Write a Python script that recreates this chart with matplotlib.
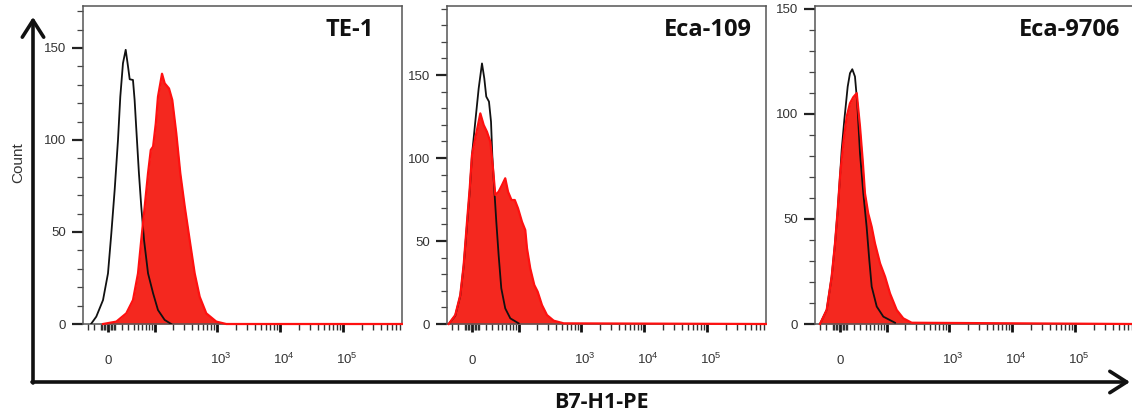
import numpy as np
import matplotlib
matplotlib.use("Agg")
import matplotlib.pyplot as plt
from matplotlib.ticker import FixedLocator, MultipleLocator
from matplotlib.transforms import ScaledTranslation

plt.rcParams['font.family'] = ['Liberation Sans', 'DejaVu Sans']
plt.rcParams['mathtext.fontset'] = 'custom'
plt.rcParams['mathtext.rm'] = 'Liberation Sans'
plt.rcParams['mathtext.it'] = 'Liberation Sans'

# ---------------- data (fluorescence intensity vs. cell count) ----------------
panel_titles = ["TE-1", "Eca-109", "Eca-9706"]
y_limits = [172.8, 191.6, 151.4]

# TE-1
te1_ctrl_x = [-24.6, -16.4, -6.8, 0, 4.5, 9.2, 13.9, 17.3, 21.4, 25.8, 29.7, 32.7, 38.9,
              42.2, 45.5, 51.6, 57.2, 64.5, 76.1, 93.1, 112.6, 145.4, 186]
te1_ctrl_count = [0, 4, 13, 27.5, 49, 73, 100, 123.5, 141.7, 149, 140, 133, 132.6,
                  121.7, 107, 82, 64, 45.6, 27.5, 16.7, 7.6, 2.2, 0]
te1_b7_x = [-6.8, 11.5, 26.8, 38.9, 49.5, 57.2, 66.4, 76.1, 85.0, 93.1, 103.5, 112.6, 131.4,
            145.4, 170.9, 193.3, 224.3, 260, 305.9, 367.6, 441.6, 530.5, 675.2, 973.5, 1403, 860000]
te1_b7_count = [0, 1.3, 5.8, 13, 27.5, 45.6, 64, 82, 94.6, 96.4, 109, 123.5, 136,
                130.8, 128, 121.7, 103.6, 82, 64, 45.6, 27.5, 14.8, 5.8, 1.3, 0, 0]

# Eca-109
eca109_ctrl_x = [-35.7, -24.2, -16.4, -11.5, -6.8, -3.1, 0, 4.5, 9.2, 13.9, 17.3, 20.3, 24.6,
                 28.0, 30.2, 33.7, 37.6, 42.2, 47.9, 57.2, 70.9, 98.9]
eca109_ctrl_count = [0, 5, 17, 35, 60, 80, 101.8, 121.9, 142, 157, 148, 137, 134,
                     121.9, 101.8, 81.7, 61.6, 41.6, 21.5, 9.4, 3.4, 0.4]
eca109_b7_x = [-35.7, -24.2, -16.4, -11.5, -6.8, -3.1, 0, 4.5, 11.5, 16.4, 21.4, 26.8, 30.9,
               35.7, 42.2, 49.5, 57.2, 64.5, 74.4, 85.0, 96.6, 112.6, 127.8, 136.4, 154.3,
               179.4, 203.3, 238.7, 286.9, 367.6, 530.5, 860000]
eca109_b7_count = [0, 5.4, 17.5, 35.5, 61.6, 81.7, 101.8, 111.9, 126.9, 119.9, 115.8, 109.8, 95.8,
                   77.7, 79.7, 83.7, 87.8, 79.7, 74.7, 74.7, 69.7, 61.6, 56.6, 45.6, 33.5,
                   23.5, 19.5, 11.4, 5.4, 2, 0.4, 0]

# Eca-9706
eca9706_ctrl_x = [-29.7, -18.8, -11.5, -6.8, -3.1, 0, 2.3, 5.9, 10.6, 13.9, 17.3, 21.4, 25.1,
                  29.7, 35.7, 42.2, 47.9, 53.4, 66.4, 86.9, 136.4]
eca9706_ctrl_count = [0, 6.7, 22.5, 38.4, 54.3, 70.1, 82.9, 97.1, 113, 119.4, 121.3, 117.8, 105.1,
                      81.3, 62.2, 46.3, 30.5, 17.8, 8.3, 3.5, 0.6]
eca9706_b7_x = [-29.7, -18.8, -11.5, -6.8, -3.1, 0, 4.5, 9.2, 13.9, 18.8, 24.2, 29.7, 34.5,
                38.9, 45.5, 53.4, 61.6, 76.1, 93.1, 112.6, 145.4, 186.0, 254.3, 860000]
eca9706_b7_count = [0, 6.7, 22.5, 38.4, 54.3, 70.1, 86, 98.7, 105.1, 108, 109.9, 94, 78.1,
                    62.2, 52.7, 46.3, 38.4, 28.9, 22.5, 14.6, 6.7, 2.7, 0.6, 0]

ctrl_x = [te1_ctrl_x, eca109_ctrl_x, eca9706_ctrl_x]
ctrl_count = [te1_ctrl_count, eca109_ctrl_count, eca9706_ctrl_count]
b7_x = [te1_b7_x, eca109_b7_x, eca9706_b7_x]
b7_count = [te1_b7_count, eca109_b7_count, eca9706_b7_count]

x_major_ticks = [0, 1e2, 1e3, 1e4, 1e5]
x_major_labels = ["0", "", r"$10^{3}$", r"$10^{4}$", r"$10^{5}$"]
x_minor_ticks = ([-30, -20, -10, -8, -6, -4, -2, 2, 4, 6, 8, 10, 20, 30, 40, 50, 60, 70, 80, 90]
                 + [m * 10 ** k for k in (2, 3, 4, 5) for m in range(2, 10)])

# ---------------- layout ----------------
W, H = 1132, 415
fig = plt.figure(figsize=(W / 100, H / 100), dpi=100)

W_LIN = 37.2
fwd = lambda v: np.arcsinh(np.asarray(v, dtype=float) / W_LIN)
inv = lambda v: W_LIN * np.sinh(np.asarray(v, dtype=float))

lefts = [83, 447, 815]
ax_w, ax_top, ax_bot = 319, 6, 324
title_x = [0.911, 0.955, 0.958]

RED_FILL = '#f4281f'
RED_EDGE = '#ff1010'
SPINE = '#555555'

for i in range(3):
    ax = fig.add_axes([lefts[i] / W, (H - ax_bot) / H, ax_w / W, (ax_bot - ax_top) / H])
    ax.set_xscale('function', functions=(fwd, inv))
    ax.set_xlim(-38.9, 864000)
    ax.set_ylim(0, y_limits[i])

    ax.fill_between(b7_x[i], b7_count[i], 0, color=RED_FILL, lw=0, zorder=2)
    ax.plot(ctrl_x[i], ctrl_count[i], color='#111111', lw=1.3, zorder=3)
    ax.plot(b7_x[i], b7_count[i], color=RED_EDGE, lw=1.6, zorder=4, clip_on=False,
            solid_joinstyle='round')

    for s in ax.spines.values():
        s.set_color(SPINE)
        s.set_linewidth(1.1)

    ax.yaxis.set_major_locator(MultipleLocator(50))
    ax.yaxis.set_minor_locator(MultipleLocator(10))
    ax.tick_params(axis='y', which='major', length=8, width=1.6, color='#222222',
                   labelsize=9.5, labelcolor='#333333', pad=4)
    ax.tick_params(axis='y', which='minor', length=4, width=0.9, color='#444444')

    ax.xaxis.set_major_locator(FixedLocator(x_major_ticks))
    ax.xaxis.set_minor_locator(FixedLocator(x_minor_ticks))
    ax.set_xticklabels(x_major_labels)
    ax.tick_params(axis='x', which='major', length=6, width=2.0, color='#111111',
                   labelsize=9.5, labelcolor='#333333', pad=23)
    ax.tick_params(axis='x', which='minor', length=4, width=1.0, color='#333333')
    for lbl in ax.get_xticklabels():
        lbl.set_verticalalignment('baseline')
        if lbl.get_text().startswith('$'):
            lbl.set_transform(lbl.get_transform()
                              + ScaledTranslation(4 / 100, 0, fig.dpi_scale_trans))

    ax.text(title_x[i], 0.923, panel_titles[i], transform=ax.transAxes,
            ha='right', va='center', fontsize=17, fontweight='bold',
            family=['Open Sans', 'DejaVu Sans'], color='#111111')

# overlay for outer axes arrows and labels (pixel coordinates)
ov = fig.add_axes([0, 0, 1, 1], zorder=10)
ov.set_xlim(0, W)
ov.set_ylim(H, 0)
ov.axis('off')
ov.patch.set_alpha(0)
arrow_kw = dict(arrowstyle='->,head_length=0.55,head_width=0.35', lw=2.6, color='#111111',
                mutation_scale=22, shrinkA=0, shrinkB=0)
ov.annotate('', xy=(33, 17), xytext=(33, 383), arrowprops=arrow_kw)
ov.annotate('', xy=(1130, 382), xytext=(32, 382), arrowprops=arrow_kw)

fig.text(18 / W, 1 - 163 / H, 'Count', rotation=90, ha='center', va='center',
         fontsize=11, color='#333333')
fig.text(601 / W, 1 - 402 / H, 'B7-H1-PE', ha='center', va='center', fontsize=15.5,
         fontweight='bold', family=['Open Sans', 'DejaVu Sans'], color='#111111')

fig.savefig('out.png', dpi=100)
